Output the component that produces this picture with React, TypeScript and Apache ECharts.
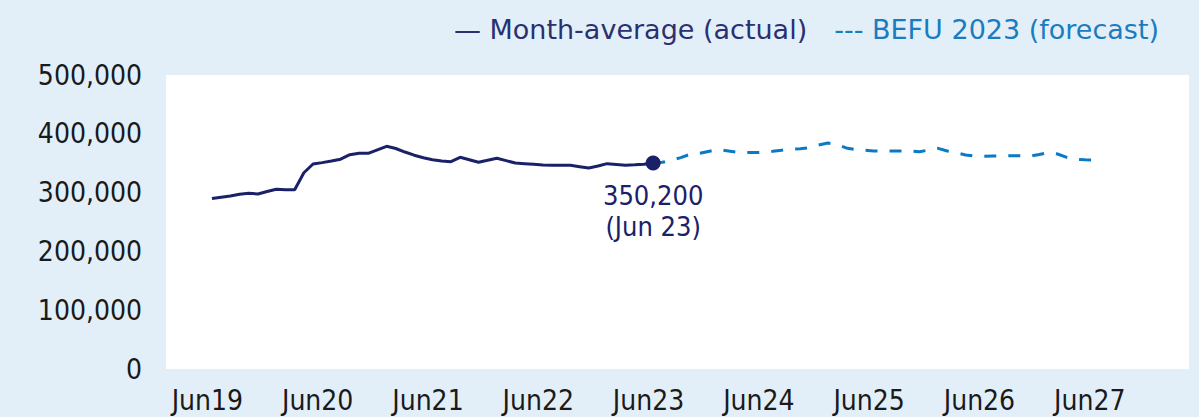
import React, { useEffect, useRef } from "react";
import * as echarts from "echarts";

// Month index: Jan 2019 = 0
const ACTUAL_START = 5; // Jun 2019
const FORECAST_START = 53; // Jun 2023
const JUN19 = 5;

const actualValues = [
  290000, 292200, 294200, 297300, 298800, 297600, 301900, 305600, 305000, 305000,
  333800, 348600, 351000, 353700, 356800, 364500, 366800, 366800, 372800, 378700,
  375000, 369000, 363600, 359200, 355800, 353700, 352600, 360000, 355800, 351500,
  355100, 358300, 354300, 350300, 349200, 348100, 347000, 346400, 346400, 346400,
  344100, 341800, 345200, 349200, 347800, 346400, 347200, 348100, 350200,
];

const forecastValues = [
  350200, 351500, 355100, 359500, 365000, 366500, 369900, 373300, 371300, 369000,
  368200, 368000, 368500, 370200, 372100, 373800, 374700, 376500, 381000, 384400,
  381800, 375900, 373300, 372000, 370800, 370800, 370800, 370800, 370800, 369600,
  372500, 375300, 370800, 367400, 364100, 361900, 361700, 362200, 362600, 362800,
  362800, 362200, 364800, 367900, 365700, 360000, 356600, 355900, 355400,
];

const tickLabels = ["Jun19", "Jun20", "Jun21", "Jun22", "Jun23", "Jun24", "Jun25", "Jun26", "Jun27"];
const yTicks = [0, 100000, 200000, 300000, 400000, 500000];

const ACTUAL_NAME = "Month-average (actual)";
const FORECAST_NAME = "BEFU 2023 (forecast)";
const LAST_ACTUAL_LABEL = "Jun 23";

const NAVY = "#1a2169";
const LEGEND_NAVY = "#2a3070";
const BLUE = "#0a7ac6";
const LEGEND_BLUE = "#1a7cc0";
const BG = "#e3eff8";
const FONT = '"DejaVu Sans Condensed", "DejaVu Sans", sans-serif';
const LEGEND_FONT = '"DejaVu Sans", sans-serif';

export default function App() {
  const ref = useRef<HTMLDivElement>(null);
  useEffect(() => {
    document.body.style.margin = "0";
    const chart = echarts.init(ref.current!, null, { renderer: "svg" });
    const tickPositions = tickLabels.map((_, i) => JUN19 - 0.5 + 12 * i);
    const actualData: any[] = actualValues.map((v, i) => [ACTUAL_START + i, v]);
    const last = actualData.length - 1;
    actualData[last] = {
      value: actualData[last],
      symbol: "circle",
      symbolSize: 15,
      label: {
        show: true,
        position: "bottom",
        distance: 9,
        color: NAVY,
        fontSize: 27,
        lineHeight: 31,
        fontFamily: FONT,
        formatter: () =>
          actualValues[last].toLocaleString("en-US") + "\n(" + LAST_ACTUAL_LABEL + ")",
      },
    };
    const forecastData = forecastValues.map((v, i) => [FORECAST_START + i, v]);
    chart.setOption({
      animation: false,
      backgroundColor: BG,
      textStyle: { fontFamily: FONT },
      legend: {
        right: 35,
        top: 11,
        icon: "none",
        itemWidth: 0,
        itemGap: 22,
        selectedMode: false,
        textStyle: { fontSize: 27, fontFamily: LEGEND_FONT },
        formatter: (n: string) => (n === ACTUAL_NAME ? "— " + n : "--- " + n),
        data: [
          { name: ACTUAL_NAME, textStyle: { color: LEGEND_NAVY } },
          { name: FORECAST_NAME, textStyle: { color: LEGEND_BLUE } },
        ],
      },
      grid: {
        left: 166,
        right: 10,
        top: 75,
        bottom: 48,
        show: true,
        backgroundColor: "#ffffff",
        borderWidth: 0,
      },
      xAxis: {
        type: "value",
        min: 0,
        max: 111.3,
        axisLine: { show: false },
        axisTick: { show: false },
        splitLine: { show: false },
        axisLabel: {
          customValues: tickPositions,
          formatter: (v: number) => {
            const idx = tickPositions.findIndex((p) => Math.abs(p - v) < 0.01);
            return idx >= 0 ? tickLabels[idx] : "";
          },
          color: "#1a1a1a",
          fontSize: 28,
          fontFamily: FONT,
          margin: 17,
        },
      },
      yAxis: {
        type: "value",
        min: yTicks[0],
        max: yTicks[yTicks.length - 1],
        interval: yTicks[1] - yTicks[0],
        axisLine: { show: false },
        axisTick: { show: false },
        splitLine: { show: false },
        axisLabel: {
          color: "#1a1a1a",
          fontSize: 28,
          fontFamily: FONT,
          margin: 24,
          formatter: (v: number) => v.toLocaleString("en-US"),
        },
      },
      series: [
        {
          name: FORECAST_NAME,
          type: "line",
          data: forecastData,
          symbol: "none",
          lineStyle: { color: BLUE, width: 3, type: [12, 12] },
          itemStyle: { color: BLUE },
          z: 2,
        },
        {
          name: ACTUAL_NAME,
          type: "line",
          data: actualData,
          symbol: "none",
          lineStyle: { color: NAVY, width: 3 },
          itemStyle: { color: NAVY },
          z: 3,
        },
      ],
    });
    return () => chart.dispose();
  }, []);
  return (
    <div
      ref={ref}
      style={{ position: "absolute", left: 0, top: 0, width: 1199, height: 417 }}
    />
  );
}
